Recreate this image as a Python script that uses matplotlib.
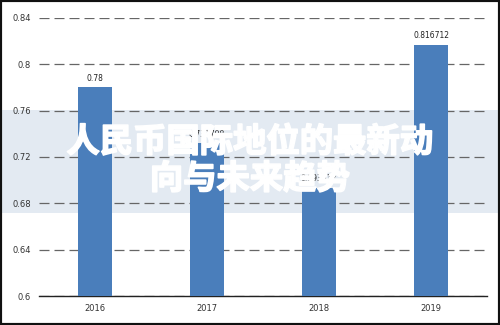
import matplotlib
matplotlib.use('Agg')
from matplotlib import pyplot as plt
from matplotlib.patches import Rectangle
import matplotlib.patheffects as pe

# данные
years = ['2016', '2017', '2018', '2019']
values = [0.78, 0.731798, 0.693512, 0.816712]
value_labels = ['0.78', '0.731798', '0.693512', '0.816712']
y_ticks = [0.6, 0.64, 0.68, 0.72, 0.76, 0.8, 0.84]
y_tick_labels = ['0.6', '0.64', '0.68', '0.72', '0.76', '0.8', '0.84']
title = '人民币国际地位的最新动\n向与未来趋势'

plt.rcParams['font.family'] = ['Noto Sans CJK SC', 'DejaVu Sans']

fig = plt.figure(figsize=(5, 3.25), dpi=100)
fig.patch.set_facecolor('white')

# полоса под заголовком (за графиком)
band = Rectangle((0, 0.345), 1, 0.317, transform=fig.transFigure,
                 facecolor='#e3eaf2', edgecolor='none', zorder=0)
fig.patches.append(band)

ax = fig.add_axes([0.078, 0.089, 0.896, 0.856])
ax.set_zorder(1)
ax.patch.set_visible(False)

x = range(len(years))
ax.bar(x, values, width=0.31, color='#4a7ebb', zorder=3)
for i, v in enumerate(values):
    ax.text(i, v + 0.004, value_labels[i], ha='center', va='bottom',
            fontsize=5.5, color='#222222', family='DejaVu Sans', zorder=4)

ax.set_xlim(-0.5, len(years) - 0.5)
ax.set_ylim(0.6, 0.84)
ax.set_xticks(list(x))
ax.set_xticklabels(years, fontsize=6, color='#333333', family='DejaVu Sans')
ax.set_yticks(y_ticks)
ax.set_yticklabels(y_tick_labels, fontsize=6, color='#333333', family='DejaVu Sans')
ax.tick_params(length=0, pad=6)

ax.yaxis.grid(True, linestyle=(0, (8, 4)), color='#666666', linewidth=0.9, zorder=1)
for s in ['top', 'right', 'left']:
    ax.spines[s].set_visible(False)
ax.spines['bottom'].set_color('#222222')
ax.spines['bottom'].set_linewidth(1.0)

# заголовок поверх графика
fig.text(0.5, 0.505, title, ha='center', va='center', fontsize=24,
         fontweight='heavy', color='white', linespacing=1.15, zorder=10,
         path_effects=[pe.withStroke(linewidth=1.2, foreground='white')])

# рамка
fig.patches.append(Rectangle((0, 0), 1, 1, transform=fig.transFigure,
                             facecolor='none', edgecolor='#111111', linewidth=3, zorder=20))

fig.savefig('out.png', dpi=100)
